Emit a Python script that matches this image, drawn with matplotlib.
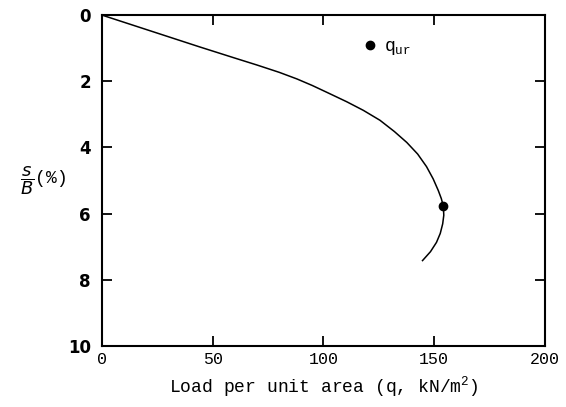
import numpy as np
import matplotlib.pyplot as plt

# load-settlement curve
load = [0, 22, 44, 60, 70, 80, 88, 95, 102, 110.5, 118, 125.5, 132, 137.6, 142.5, 146.5,
        149.5, 151.8, 153.2, 154.1, 154.3, 153.8, 152.7, 151, 148.3, 144.7]
settle = [0, 0.48, 0.96, 1.3, 1.51, 1.73, 1.93, 2.13, 2.35, 2.62, 2.88, 3.18, 3.52, 3.85, 4.2, 4.58,
          4.95, 5.3, 5.55, 5.78, 6.05, 6.31, 6.6, 6.87, 7.15, 7.42]

# ultimate bearing capacity point
q_ur = 154.1
s_ur = 5.78

x_ticks = [0, 50, 100, 150, 200]
y_ticks = [0, 2, 4, 6, 8, 10]

mono = 'Liberation Mono'

fig = plt.figure(figsize=(5.66, 4.07), dpi=100)
ax = fig.add_axes([0.180, 0.150, 0.783, 0.813])

ax.plot(load, settle, color='black', lw=1.1)
ax.plot([q_ur], [s_ur], 'o', color='black', ms=6, label=r'q$_{\mathregular{ur}}$')

ax.set_xlim(0, 200)
ax.set_ylim(10, 0)
ax.set_xticks(x_ticks)
ax.set_yticks(y_ticks)
ax.set_xticklabels([str(t) for t in x_ticks], family=mono, fontsize=12)
ax.set_yticklabels([str(t) for t in y_ticks], fontsize=12, fontweight='bold')
ax.tick_params(direction='in', length=7, width=1.3, top=True, right=True, pad=4)
ax.tick_params(axis='y', pad=8)
for sp in ax.spines.values():
    sp.set_linewidth(1.5)

ax.set_xlabel(r'Load per unit area (q, kN/m$^{\mathregular{2}}$)', family=mono, fontsize=13, labelpad=6)
ax.set_ylabel(r'$\dfrac{s}{B}$(%)', rotation=0, family=mono, fontsize=13, labelpad=18, va='center')

leg = ax.legend(loc='upper left', bbox_to_anchor=(0.56, 0.98), frameon=False,
                handlelength=0.4, handletextpad=0.6, prop={'family': mono, 'size': 13})

fig.savefig('out.png', dpi=100)
